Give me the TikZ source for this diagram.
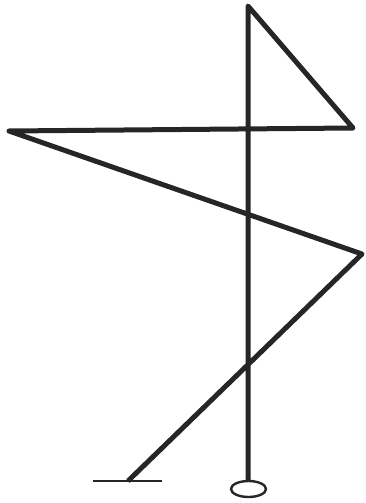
\documentclass[tikz,border=0pt]{standalone}
\begin{document}
\begin{tikzpicture}[x=1pt,y=-1pt,
  ink/.style={draw=black!85,line width=5pt,line join=round},
  thin ink/.style={draw=black!85,line width=2.8pt}]
\useasboundingbox (0,0) rectangle (366,503);
\coordinate (top) at (248,6);
\coordinate (poleend) at (248,480);
\coordinate (tri) at (353,128);
\coordinate (left) at (9,131);
\coordinate (right) at (362,254);
\coordinate (foot) at (128,481);
\coordinate (bl) at (93,481);
\coordinate (br) at (162,481);
\coordinate (ring) at (248.5,489);
\draw[ink] (poleend) -- (top) -- (tri) -- (left) -- (right) -- (foot);
\draw[thin ink] (bl) -- (br);
\draw[thin ink,line width=2.4pt] (ring) ellipse [x radius=17.5pt, y radius=8pt];
\end{tikzpicture}
\end{document}
